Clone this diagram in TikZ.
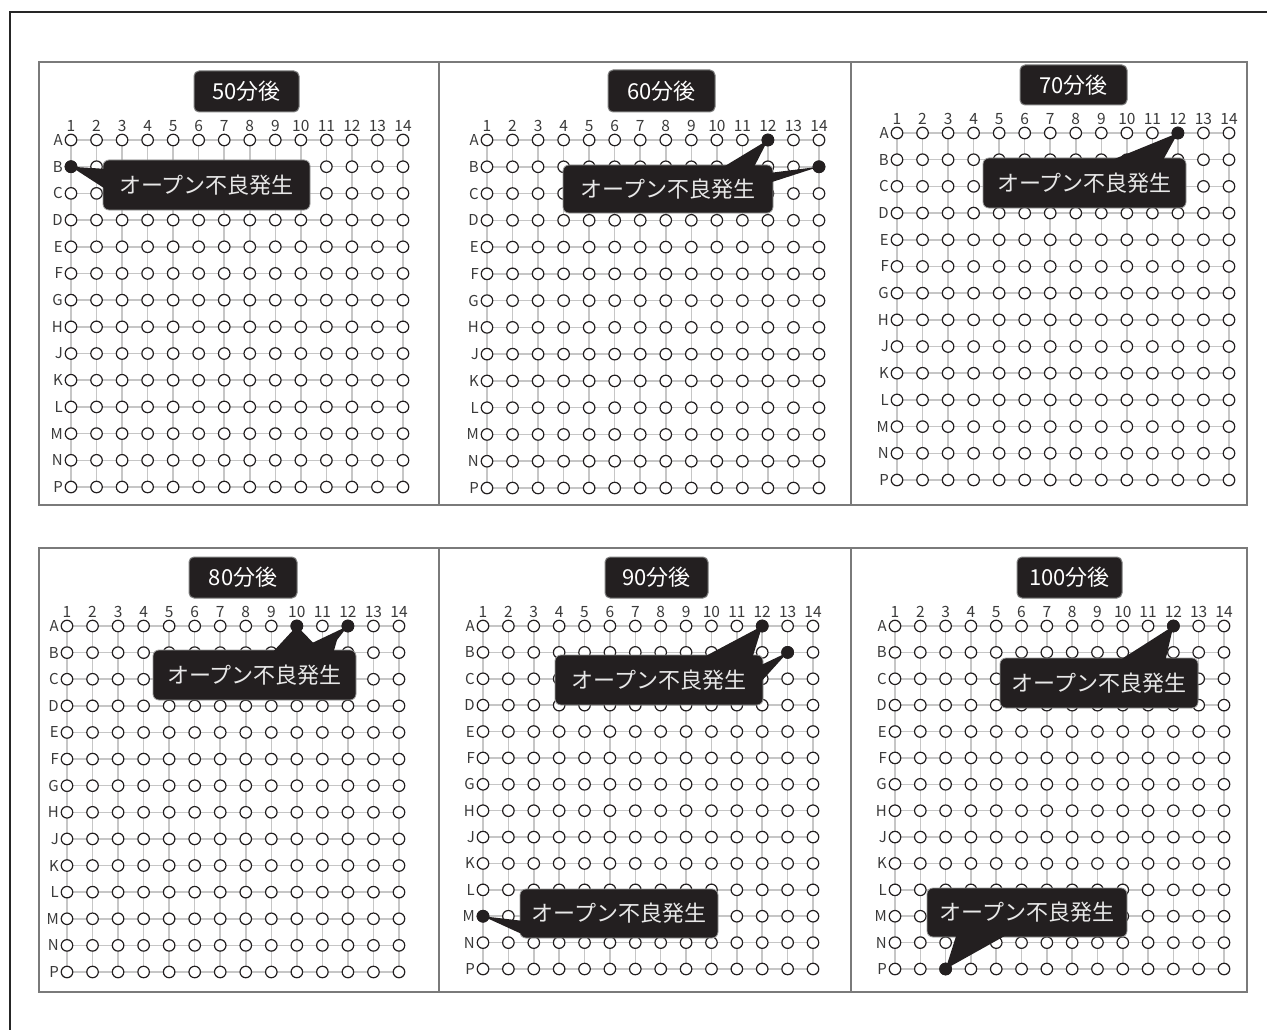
\documentclass[tikz,border=0pt]{standalone}
\usepackage{fontspec}
\setmainfont{Noto Sans CJK JP}
\usetikzlibrary{calc}
\definecolor{ink}{HTML}{231F20}
\definecolor{gridgray}{HTML}{C6C6C6}
\definecolor{framegray}{HTML}{7A7A7A}
\definecolor{lbl}{HTML}{3A3A3A}
\definecolor{calltext}{HTML}{E8E8E8}
\tikzset{
  hole/.style={circle, draw=ink, line width=1.2pt, fill=white, minimum size=11.5pt, inner sep=0pt},
  defect/.style={circle, draw=ink, fill=ink, line width=1.2pt, minimum size=11.5pt, inner sep=0pt},
  gridline/.style={draw=gridgray, line width=1.5pt},
  collabel/.style={text=lbl, inner sep=0pt, font=\fontsize{15.5}{15.5}\selectfont},
  rowlabel/.style={text=lbl, inner sep=0pt, anchor=east, font=\fontsize{15}{15}\selectfont},
  titlebox/.style={fill=ink, draw=gray, line width=1pt, rounded corners=5pt, text=white,
    inner sep=0pt, font=\fontsize{22}{22}\selectfont},
  callout/.style={fill=ink, draw=gray!80, line width=0.8pt, rounded corners=6pt, text=calltext,
    inner sep=0pt, font=\fontsize{22}{22}\selectfont},
  wedge/.style={fill=ink},
  panelframe/.style={draw=framegray, line width=1.5pt},
  outerframe/.style={draw=black!85, line width=2pt},
}
% #1 name, #2 x of column 1, #3 y of row A, #4 x of column 14, #5 y of row P
\newcommand\holegrid[5]{%
  \foreach \rl [count=\i] in {A,B,C,D,E,F,G,H,J,K,L,M,N,P}{%
    \foreach \j in {1,...,14}{%
      \pgfmathsetmacro\xx{#2+(\j-1)*(#4-#2)/13}%
      \pgfmathsetmacro\yy{#3+(\i-1)*(#5-#3)/13}%
      \coordinate (#1-\i-\j) at (\xx,\yy);
    }%
  }%
  \foreach \i in {1,...,14}{\draw[gridline] (#1-\i-1) -- (#1-\i-14);}%
  \foreach \j in {1,...,14}{\draw[gridline] (#1-1-\j) -- (#1-14-\j);}%
  \foreach \i in {1,...,14}{\foreach \j in {1,...,14}{\node[hole] (#1-h-\i-\j) at (#1-\i-\j) {};}}%
  \foreach \j in {1,...,14}{\node[collabel] (#1-n\j) at ($(#1-1-\j)+(0,-14)$) {\j};}%
  \foreach \rl [count=\i] in {A,B,C,D,E,F,G,H,J,K,L,M,N,P}{\node[rowlabel] (#1-r\i) at ($(#1-\i-1)+(-8,0)$) {\rl};}%
}
\begin{document}
\begin{tikzpicture}[x=1pt, y=-1pt]
\useasboundingbox (0,0) rectangle (1267,1030);
\fill[white] (0,0) rectangle (1267,1030);
% outer frame
\draw[outerframe] (10,1032) -- (10,12) -- (1269,12);
% panel frames
\draw[panelframe] (39,62) rectangle (1247,505);
\draw[panelframe] (439,62) -- (439,505) (851,62) -- (851,505);
\draw[panelframe] (39,548) rectangle (1247,992);
\draw[panelframe] (439,548) -- (439,992) (851,548) -- (851,992);

% grids
\holegrid{pa}{71}{140}{403}{487}
\holegrid{pb}{487}{140}{819}{488}
\holegrid{pc}{897}{133}{1229}{480}
\holegrid{pd}{67}{626}{399}{972}
\holegrid{pe}{483}{626}{813}{969}
\holegrid{pf}{895}{626}{1224}{969}

% titles
\node[titlebox, minimum width=105pt, minimum height=41pt] (ta) at (246.5,91.5) {50分後};
\node[titlebox, minimum width=107pt, minimum height=42pt] (tb) at (661.5,91) {60分後};
\node[titlebox, minimum width=107pt, minimum height=40pt] (tc) at (1073.5,85) {70分後};
\node[titlebox, minimum width=108pt, minimum height=41pt] (td) at (243,577.5) {80分後};
\node[titlebox, minimum width=103pt, minimum height=41pt] (te) at (656.5,577.5) {90分後};
\node[titlebox, minimum width=105pt, minimum height=41pt] (tf) at (1069.5,577.5) {100分後};

% callout boxes
\node[callout, minimum width=207pt, minimum height=50pt] (ca) at (206.5,185) {オープン不良発生};
\node[callout, minimum width=210pt, minimum height=48pt] (cb) at (668,189) {オープン不良発生};
\node[callout, minimum width=203pt, minimum height=50pt] (cc) at (1084.5,183) {オープン不良発生};
\node[callout, minimum width=203pt, minimum height=50pt] (cd) at (254.5,675) {オープン不良発生};
\node[callout, minimum width=208pt, minimum height=50pt] (ce) at (659,680) {オープン不良発生};
\node[callout, minimum width=198pt, minimum height=50pt] (cf) at (1099,683) {オープン不良発生};
\node[callout, minimum width=198pt, minimum height=49pt] (cg) at (619,913.5) {オープン不良発生};
\node[callout, minimum width=200pt, minimum height=49pt] (ch) at (1027,912.5) {オープン不良発生};

% defect positions (row index, column)
\coordinate (da) at (pa-2-1);
\coordinate (db1) at (pb-1-12);
\coordinate (db2) at (pb-2-14);
\coordinate (dc) at (pc-1-12);
\coordinate (dd1) at (pd-1-10);
\coordinate (dd2) at (pd-1-12);
\coordinate (de1) at (pe-1-12);
\coordinate (de2) at (pe-2-13);
\coordinate (de3) at (pe-12-1);
\coordinate (df1) at (pf-1-12);
\coordinate (df2) at (pf-14-3);

% wedges
\fill[wedge] (107,169) -- (da) -- (107,190) -- cycle;
\fill[wedge] (720,169) -- (db1) -- (753,169) -- cycle;
\fill[wedge] (769,173) -- (db2) -- (769,183) -- cycle;
\fill[wedge] (1107,162) -- (dc) -- (1162,162) -- cycle;
\fill[wedge] (271,654) -- (dd1) -- (324,654) -- cycle;
\fill[wedge] (289,654) -- (dd2) -- (337,640) -- (333,654) -- cycle;
\fill[wedge] (700,659) -- (de1) -- (752,659) -- cycle;
\fill[wedge] (759,666) -- (de2) -- (759,684) -- cycle;
\fill[wedge] (524,921) -- (de3) -- (524,935) -- cycle;
\fill[wedge] (1117,662) -- (df1) -- (1165,662) -- cycle;
\fill[wedge] (957,933) -- (df2) -- (1010,933) -- cycle;

% defect dots
\node[defect] (xa) at (da) {};
\node[defect] (xb1) at (db1) {};
\node[defect] (xb2) at (db2) {};
\node[defect] (xc) at (dc) {};
\node[defect] (xd1) at (dd1) {};
\node[defect] (xd2) at (dd2) {};
\node[defect] (xe1) at (de1) {};
\node[defect] (xe2) at (de2) {};
\node[defect] (xe3) at (de3) {};
\node[defect] (xf1) at (df1) {};
\node[defect] (xf2) at (df2) {};
\end{tikzpicture}
\end{document}
